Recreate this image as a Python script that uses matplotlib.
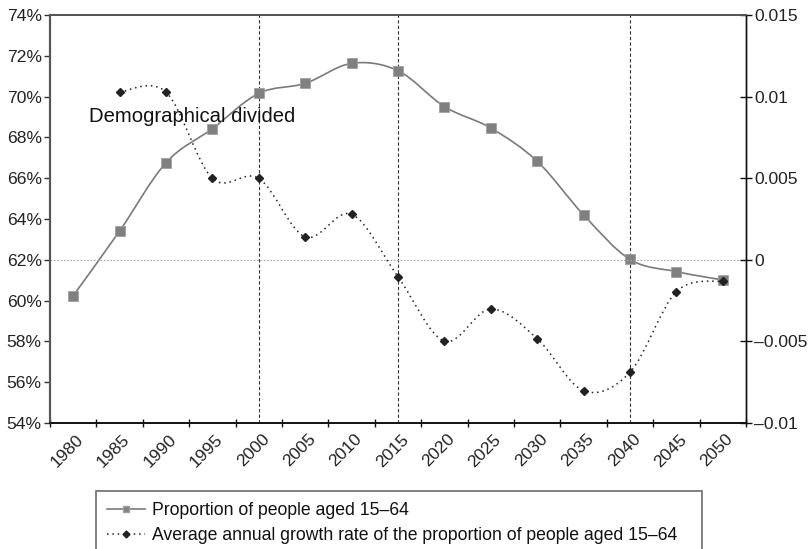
import matplotlib
matplotlib.use("Agg")
import matplotlib.pyplot as plt
from matplotlib.path import Path
from matplotlib.patches import PathPatch
from matplotlib.lines import Line2D
import matplotlib.transforms as mtransforms
import numpy as np

plt.rcParams['font.family'] = ['Liberation Sans', 'DejaVu Sans']

years = ["1980", "1985", "1990", "1995", "2000", "2005", "2010", "2015",
         "2020", "2025", "2030", "2035", "2040", "2045", "2050"]
proportion = [60.24, 63.41, 66.76, 68.43, 70.16, 70.65, 71.63, 71.27,
              69.51, 68.46, 66.83, 64.20, 62.02, 61.42, 61.01]
growth_years = years[1:]
growth = [0.01028, 0.01028, 0.00499, 0.00499, 0.00140, 0.00279, -0.00104,
          -0.00498, -0.00301, -0.00483, -0.00802, -0.00689, -0.00195, -0.00130]
marked_years = ["2000", "2015", "2040"]
left_ticks = [54, 56, 58, 60, 62, 64, 66, 68, 70, 72, 74]
right_ticks = [-0.01, -0.005, 0, 0.005, 0.01, 0.015]
right_labels = ["\u20130.01", "\u20130.005", "0", "0.005", "0.01", "0.015"]
annotation = "Demographical divided"
legend_labels = ["Proportion of people aged 15\u201364",
                 "Average annual growth rate of the proportion of people aged 15\u201364"]

FS = 12.6


def smooth_path(xs, ys):
    pts = np.column_stack([xs, ys]).astype(float)
    n = len(pts)
    verts = [pts[0]]
    codes = [Path.MOVETO]
    for i in range(n - 1):
        p0 = pts[i - 1] if i > 0 else pts[i]
        p1 = pts[i]
        p2 = pts[i + 1]
        p3 = pts[i + 2] if i + 2 < n else pts[i + 1]
        c1 = p1 + (p2 - p0) / 6.0
        c2 = p2 - (p3 - p1) / 6.0
        verts += [c1, c2, p2]
        codes += [Path.CURVE4] * 3
    return Path(verts, codes)


fig = plt.figure(figsize=(8.08, 5.49), dpi=100)
L, R, T, B = 50 / 808, 746 / 808, 1 - 15 / 549, 1 - 423 / 549
ax = fig.add_axes([L, B, R - L, T - B])
ax2 = ax.twinx()

xi = np.arange(len(years))
xg = np.array([years.index(y) for y in growth_years])

ax.set_xlim(-0.5, len(years) - 0.5)
ax.set_ylim(54, 74)
ax2.set_ylim(-0.01, 0.015)

# zero line of secondary axis
ax2.axhline(0, color='#a8a8a8', lw=0.8, ls=(0, (1.5, 1.5)), zorder=1)

# vertical dashed markers
for y in marked_years:
    ax.axvline(years.index(y), color='#333333', lw=0.8, ls=(0, (3, 2)), zorder=1)

# proportion (smoothed)
p1 = PathPatch(smooth_path(xi, proportion), fill=False, edgecolor='#7a7a7a',
               lw=1.2, transform=ax.transData, zorder=3)
ax.add_patch(p1)
ax.plot(xi, proportion, ls='none', marker='s', ms=6.5, mfc='#808080',
        mec='#a0a0a0', mew=0.6, zorder=4)

# growth (smoothed, dotted)
p2 = PathPatch(smooth_path(xg, growth), fill=False, edgecolor='#222222',
               lw=1.1, ls=(0, (1, 2.5)), transform=ax2.transData, zorder=3)
ax2.add_patch(p2)
ax2.plot(xg, growth, ls='none', marker='D', ms=4.2, mfc='#222222',
         mec='#222222', zorder=4)

ax.text(0.34, 69.0, annotation, fontsize=14.6, va='center', ha='left',
        color='#111111', zorder=5)

# axes styling
ax.set_yticks(left_ticks)
ax.set_yticklabels([f"{v}%" for v in left_ticks], fontsize=FS, color='#222222')
ax2.set_yticks(right_ticks)
ax2.set_yticklabels(right_labels, fontsize=FS, color='#222222')

ax.set_xticks(np.arange(len(years) + 1) - 0.5, minor=False)
ax.set_xticklabels([])
ax.set_xticks(xi, minor=True)
ax.set_xticklabels(years, minor=True, rotation=45, ha='right', va='center',
                   rotation_mode='anchor', fontsize=FS, color='#222222')
ax.tick_params(axis='x', which='minor', length=0, pad=10)
offset = mtransforms.ScaledTranslation(8 / 100, 0, fig.dpi_scale_trans)
for lab in ax.get_xticklabels(minor=True):
    lab.set_transform(lab.get_transform() + offset)
ax.tick_params(axis='x', which='major', direction='inout', length=6,
               width=1, color='#111111')
ax.tick_params(axis='y', direction='out', length=4, width=1, color='#333333', pad=2)
ax2.tick_params(axis='y', direction='inout', length=8, width=1, color='#111111', pad=2)

for a in (ax, ax2):
    a.spines['top'].set_color('#555555')
    a.spines['top'].set_linewidth(1.3)
    a.spines['left'].set_color('#555555')
    a.spines['left'].set_linewidth(1.5)
    a.spines['right'].set_color('#111111')
    a.spines['right'].set_linewidth(1.0)
    a.spines['bottom'].set_color('#111111')
    a.spines['bottom'].set_linewidth(1.2)

handles = [Line2D([], [], color='#7a7a7a', lw=1.2, marker='s', ms=5,
                  mfc='#808080', mec='#a0a0a0'),
           Line2D([], [], color='#222222', lw=1.1, ls=(0, (1, 2.5)), marker='D',
                  ms=3.5, mfc='#222222', mec='#222222')]
lx0, ly0 = 96 / 808, 1 - 491 / 549
leg = fig.legend(handles, legend_labels, loc='upper left',
                 bbox_to_anchor=(lx0, ly0 - 0.2, 606 / 808, 0.2), mode='expand',
                 fontsize=12.7, frameon=True, fancybox=False, handlelength=2.15,
                 handletextpad=0.38, borderpad=0.62, labelspacing=0.48,
                 borderaxespad=0)
leg.get_frame().set_edgecolor('#555555')
leg.get_frame().set_linewidth(1.3)
for t in leg.get_texts():
    t.set_color('#111111')

fig.savefig("out.png", dpi=100)
